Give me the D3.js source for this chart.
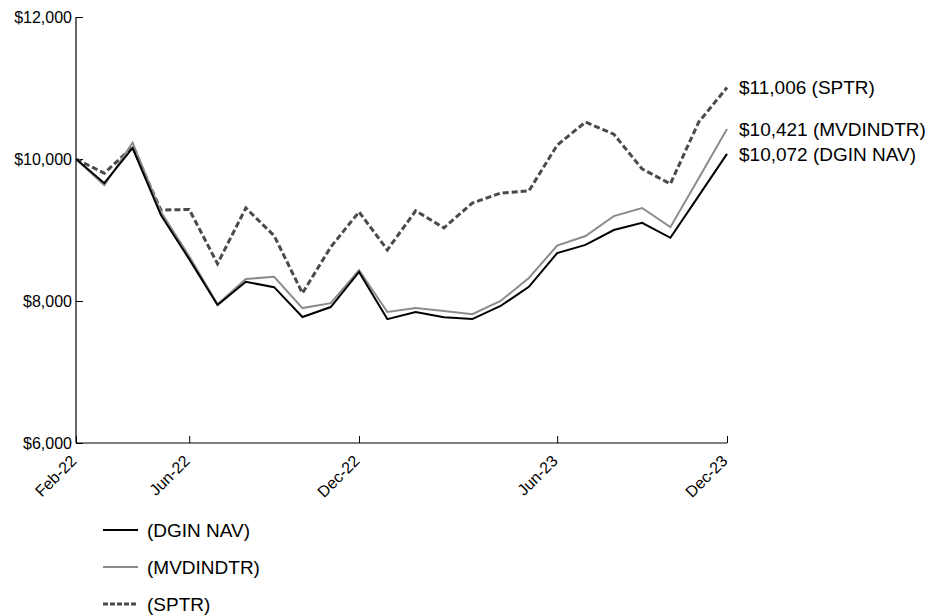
<!DOCTYPE html>
<html>
<head>
<meta charset="utf-8">
<script src="https://cdn.jsdelivr.net/npm/d3@7"></script>
<style>
  html, body { margin: 0; padding: 0; background: #fff; }
  svg { display: block; font-family: "Liberation Sans", Arial, sans-serif; }
</style>
</head>
<body>
<svg id="chart" width="937" height="615"></svg>
<script>
// ---- data ----
const categories = ["Feb-22","Mar-22","Apr-22","May-22","Jun-22","Jul-22","Aug-22","Sep-22","Oct-22","Nov-22","Dec-22",
  "Jan-23","Feb-23","Mar-23","Apr-23","May-23","May-23b","Jun-23","Jul-23","Aug-23","Sep-23","Oct-23","Nov-23","Dec-23"];
const tickLabels = ["Feb-22","Jun-22","Dec-22","Jun-23","Dec-23"];
const yTicks = [6000, 8000, 10000, 12000];
const seriesNames = ["DGIN NAV", "MVDINDTR", "SPTR"];
const dginNav = [10000, 9660, 10155, 9210, 8590, 7945, 8270, 8195, 7775, 7915, 8410, 7745, 7845, 7770, 7745, 7930, 8200, 8675, 8790, 9000, 9100, 8890, 9480, 10072];
const mvdindtr = [10000, 9630, 10230, 9255, 8630, 7955, 8310, 8340, 7900, 7970, 8435, 7845, 7900, 7860, 7815, 8000, 8325, 8780, 8915, 9195, 9310, 9040, 9730, 10421];
const sptr = [10000, 9800, 10170, 9280, 9290, 8525, 9310, 8920, 8110, 8760, 9255, 8720, 9270, 9030, 9380, 9520, 9550, 10195, 10520, 10350, 9860, 9650, 10520, 11006];

(function () {
const seriesValues = [dginNav, mvdindtr, sptr];
const styles = [
  { color: "#000000", width: 2, dash: null },
  { color: "#8c8c8c", width: 2, dash: null },
  { color: "#4a4a4a", width: 3, dash: "6,3" }
];

const svg = d3.select("#chart");
const mLeft = 76, mRight = 727, mTop = 17, mBottom = 443;

const x = d3.scalePoint().domain(categories).range([mLeft, mRight]);
const y = d3.scaleLinear().domain([6000, 12000]).range([mBottom, mTop]);
const fmt = v => "$" + d3.format(",")(v);

// y axis
const yAxis = d3.axisLeft(y).tickValues(yTicks).tickFormat(fmt).tickSize(-7).tickPadding(4);
const gy = svg.append("g").attr("transform", `translate(${mLeft},0)`).call(yAxis);
gy.select(".domain").attr("stroke", "#000").attr("stroke-width", 1.2).attr("d", `M0,${mTop}V${mBottom}`);
gy.selectAll(".tick line").attr("stroke", "#000").attr("stroke-width", 1);
gy.selectAll(".tick text").attr("font-size", 16).attr("fill", "#000")
  .attr("font-family", "Liberation Sans, Arial, sans-serif");

// x axis
const xAxis = d3.axisBottom(x).tickValues(tickLabels).tickSize(-7).tickFormat(d => d);
const gx = svg.append("g").attr("transform", `translate(0,${mBottom})`).call(xAxis);
gx.select(".domain").attr("stroke", "#000").attr("stroke-width", 1.2).attr("d", `M${mLeft},0H${mRight}`);
gx.selectAll(".tick line").attr("stroke", "#000").attr("stroke-width", 1);
gx.selectAll(".tick text")
  .attr("font-size", 16).attr("fill", "#000")
  .attr("font-family", "Liberation Sans, Arial, sans-serif")
  .attr("text-anchor", "end")
  .attr("dy", null).attr("y", null)
  .attr("transform", "translate(1,19) rotate(-45)");

// lines (draw SPTR first so NAV sits on top)
const line = d3.line().x((d, i) => x(categories[i])).y(d => y(d));
[2, 1, 0].forEach(k => {
  svg.append("path")
    .datum(seriesValues[k])
    .attr("fill", "none")
    .attr("stroke", styles[k].color)
    .attr("stroke-width", styles[k].width)
    .attr("stroke-dasharray", styles[k].dash)
    .attr("stroke-linejoin", "miter")
    .attr("d", line);
});

// end labels
seriesValues.forEach((vals, k) => {
  const last = vals[vals.length - 1];
  svg.append("text")
    .attr("x", x(categories[categories.length - 1]) + 12)
    .attr("y", y(last))
    .attr("dy", "0.35em")
    .attr("font-size", 19)
    .attr("fill", "#000")
    .text(`${fmt(last)} (${seriesNames[k]})`);
});

// legend
const legend = svg.append("g");
seriesNames.forEach((name, k) => {
  const ly = 530 + k * 37;
  legend.append("line")
    .attr("x1", 103).attr("x2", 138).attr("y1", ly).attr("y2", ly)
    .attr("stroke", styles[k].color)
    .attr("stroke-width", styles[k].width)
    .attr("stroke-dasharray", k === 2 ? "5,2" : null);
  legend.append("text")
    .attr("x", 147).attr("y", ly).attr("dy", "0.35em")
    .attr("font-size", 19).attr("fill", "#000")
    .text(`(${name})`);
});
})();
</script>
</body>
</html>
